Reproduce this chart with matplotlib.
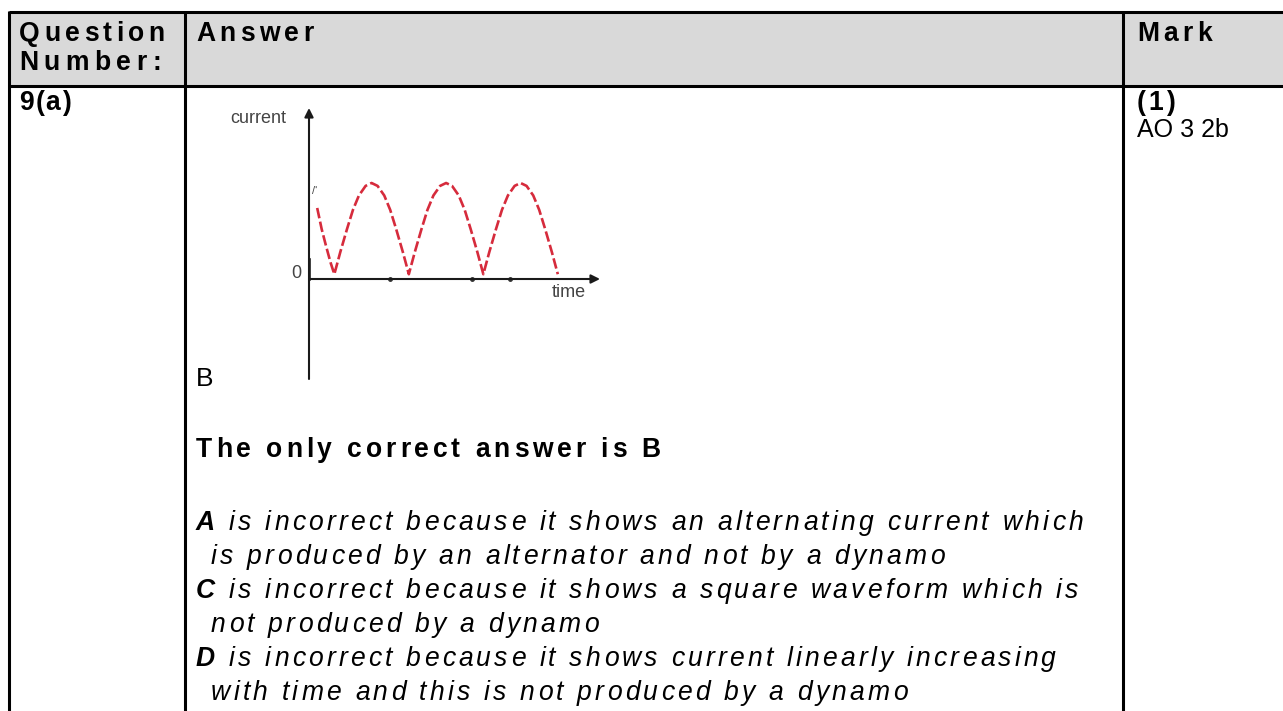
import matplotlib
matplotlib.use("Agg")
import matplotlib.pyplot as plt
from matplotlib.font_manager import FontProperties, findfont
from matplotlib.ft2font import FT2Font

W, H = 1283, 711
FAMILY = "Liberation Sans"

# --- embedded graph: rectified current vs time ---
time_pts = [0.11, 0.17, 0.23, 0.29,
            0.34, 0.42, 0.51, 0.59, 0.67, 0.76, 0.84, 0.92, 1.01, 1.09, 1.17, 1.26,
            1.34, 1.42, 1.51, 1.59, 1.67, 1.76, 1.84, 1.92, 2.01, 2.09, 2.17, 2.26,
            2.34, 2.42, 2.51, 2.59, 2.67, 2.76, 2.84, 2.92, 3.01, 3.09, 3.17, 3.26,
            3.34]
current_pts = [0.74, 0.52, 0.34, 0.17,
               0.05, 0.28, 0.52, 0.72, 0.87, 0.97, 1.00, 0.97, 0.87, 0.72, 0.52, 0.28,
               0.05, 0.28, 0.52, 0.72, 0.87, 0.97, 1.00, 0.97, 0.87, 0.72, 0.52, 0.28,
               0.05, 0.28, 0.52, 0.72, 0.87, 0.97, 1.00, 0.97, 0.87, 0.72, 0.52, 0.28,
               0.05]
tick_times = [1.09, 2.19, 2.70]
axis_labels = ["current", "time", "0"]

# --- table text ---
header_left = ["Question", "Number:"]
header_answer = "Answer"
header_mark = "Mark"
question_no = "9(a)"
mark_lines = ["(1)", "AO 3 2b"]
chosen = "B"
verdict = "The only correct answer is B"
option_letters = ["A", "", "C", "", "D", ""]
option_text = [
    "is incorrect because it shows an alternating current which",
    "is produced by an alternator and not by a dynamo",
    "is incorrect because it shows a square waveform which is",
    "not produced by a dynamo",
    "is incorrect because it shows current linearly increasing",
    "with time and this is not produced by a dynamo",
]

_fonts = {}


def _advances(text, weight, style, px):
    path = findfont(FontProperties(family=FAMILY, weight=weight, style=style))
    if path not in _fonts:
        _fonts[path] = FT2Font(path)
    font = _fonts[path]
    font.set_size(px, 72)
    return [font.load_char(ord(c)).linearHoriAdvance / 65536 for c in text]


def spaced(ax, x, y, text, px=26.5, track=0.0, weight="normal", style="normal",
           color="black"):
    """Draw text letter by letter (the scan has wide letter spacing)."""
    for c, adv in zip(text, _advances(text, weight, style, px)):
        if c != " ":
            ax.text(x, y, c, fontsize=px * 0.72, family=FAMILY, weight=weight,
                    style=style, color=color, ha="left", va="baseline")
        x += adv + track
    return x


fig = plt.figure(figsize=(W / 100, H / 100), dpi=100)
ax = fig.add_axes([0, 0, 1, 1])
ax.set_xlim(0, W); ax.set_ylim(H, 0); ax.axis("off")

# table frame
ax.fill_between([9, W], 12, 86, color="#d9d9d9", lw=0)
lw = 2.2
ax.plot([9, W], [12, 12], color="k", lw=lw, solid_capstyle="butt")
ax.plot([9, W], [86, 86], color="k", lw=lw, solid_capstyle="butt")
for xv in (9, 185, 1123):
    ax.plot([xv, xv], [11, H], color="k", lw=lw, solid_capstyle="butt")

BT = 3.85  # bold tracking, px
IT = 3.2   # italic tracking, px

# header
spaced(ax, 19, 41, header_left[0], track=4.4, weight="bold")
spaced(ax, 19, 70, header_left[1], track=5.5, weight="bold")
spaced(ax, 196, 41, header_answer, track=4.4, weight="bold")
spaced(ax, 1137, 41, header_mark, track=4.4, weight="bold")

# first row
spaced(ax, 19, 110, question_no, track=1.5, weight="bold")
spaced(ax, 1137, 110, mark_lines[0], track=2.5, weight="bold")
ax.text(1137, 137, mark_lines[1], fontsize=18, family=FAMILY, va="baseline")

ax.text(196, 386, chosen, fontsize=19, family=FAMILY, va="baseline")
spaced(ax, 196, 457, verdict, track=BT, weight="bold")

y = 530
for letter, line in zip(option_letters, option_text):
    if letter:
        x = spaced(ax, 196, y, letter + " ", track=IT, weight="bold", style="italic")
    else:
        x = 211
    spaced(ax, x, y, line, track=IT, style="italic")
    y += 34

# embedded graph, origin at pixel (309, 279)
x0, y0, sx, sy = 309, 279, 74.5, 96
left, right, top, bottom = 309, 600, 108, 379
cax = fig.add_axes([left / W, 1 - bottom / H, (right - left) / W, (bottom - top) / H])
cax.set_xlim(0, (right - left) / sx)
cax.set_ylim((y0 - bottom) / sy, (y0 - top) / sy)
cax.axis("off")
cax.patch.set_alpha(0)

arrow = dict(arrowstyle="-|>", color="#1a1a1a", lw=1.5, mutation_scale=13,
             shrinkA=0, shrinkB=0)
cax.annotate("", xy=(0, (y0 - top) / sy), xytext=(0, (y0 - bottom) / sy),
             arrowprops=arrow, annotation_clip=False)
cax.annotate("", xy=((right - left) / sx, 0), xytext=(0, 0),
             arrowprops=arrow, annotation_clip=False)
cax.plot([0, 0], [0, 0.2], color="#1a1a1a", lw=2.6)
cax.plot(tick_times, [0] * len(tick_times), "o", color="#333333", ms=2.5)
cax.plot(time_pts, current_pts, color="#d62b3c", lw=1.9, dashes=(4, 1.3))

ax.text(230, 123, axis_labels[0], fontsize=13, family=FAMILY, color="#444444",
        va="baseline")
ax.text(552, 297, axis_labels[1], fontsize=13, family=FAMILY, color="#444444",
        va="baseline")
ax.text(301, 278, axis_labels[2], fontsize=13, family=FAMILY, color="#444444",
        va="baseline", ha="right")
ax.text(312, 194, "/'", fontsize=8, family=FAMILY, color="#444444", va="baseline")

fig.savefig("out.png", dpi=100)
